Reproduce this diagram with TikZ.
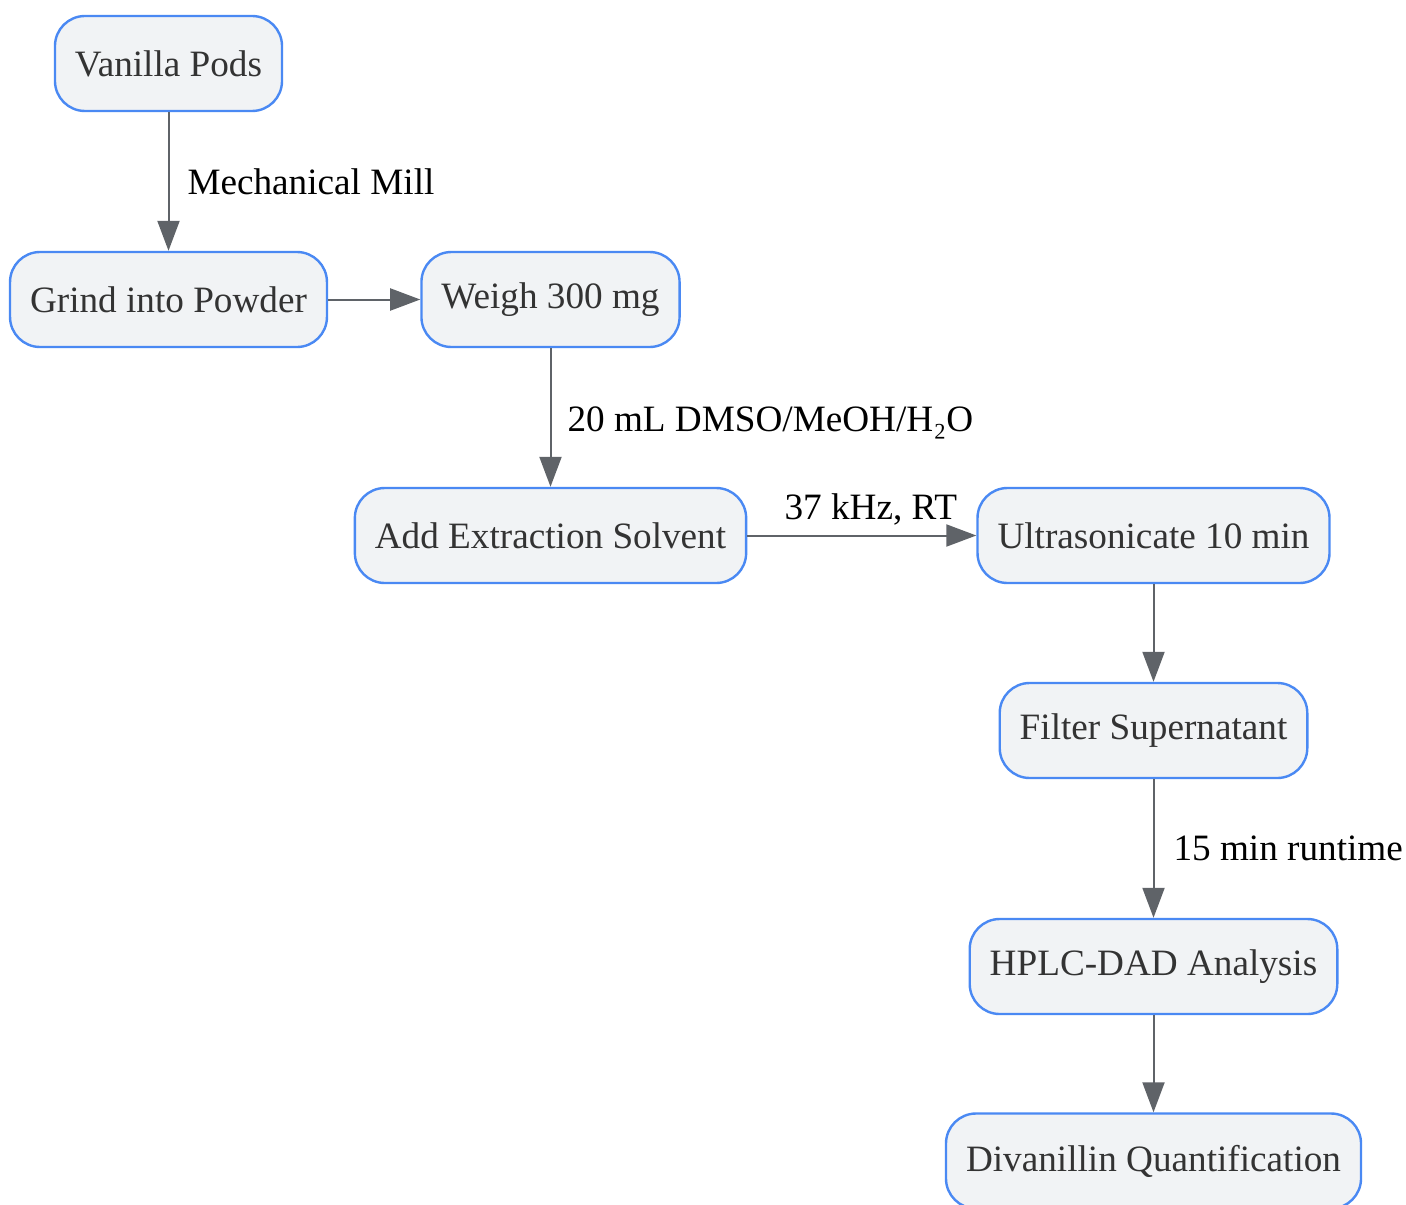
\documentclass[tikz,border=0pt]{standalone}
\usepackage{fontspec}
\setmainfont{Liberation Serif}
\usetikzlibrary{arrows.meta}
\definecolor{boxfill}{HTML}{F1F3F5}
\definecolor{boxline}{HTML}{4A89F3}
\definecolor{boxtext}{HTML}{333333}
\definecolor{arrgray}{HTML}{5F6368}
\begin{document}
\begin{tikzpicture}[x=0.5pt,y=-0.5pt,font=\fontsize{18.6}{22}\selectfont,
	box/.style={draw=boxline,fill=boxfill,text=boxtext,line width=1.2pt,rounded corners=15pt,minimum height=47.5pt,inner xsep=10pt},
	link/.style={draw=arrgray,line width=1pt,-{Triangle[length=15pt,width=11pt]}},
	lab/.style={text=black,inner sep=0pt}]
	\useasboundingbox (0,0) rectangle (1406,1204);
	% steps
	\node[box] (pods) at (168.5,63.5) {Vanilla Pods};
	\node[box] (grind) at (168.5,299.5) {Grind into Powder};
	\node[box] (weigh) at (550.5,299.5) {Weigh 300 mg};
	\node[box] (solv) at (550.5,535.5) {Add Extraction Solvent};
	\node[box] (sonic) at (1153.5,535.5) {Ultrasonicate 10 min};
	\node[box] (filt) at (1153.5,730.5) {Filter Supernatant};
	\node[box] (hplc) at (1153.5,966.5) {HPLC-DAD Analysis};
	\node[box] (quant) at (1153.5,1161) {Divanillin Quantification};
	% arrows
	\draw[link] (pods)--(grind) node[lab,midway,right=9pt]{Mechanical Mill};
	\draw[link] (grind)--(weigh);
	\draw[link] (weigh)--(solv) node[lab,midway,right=8pt,yshift=-2.5pt]{20 mL DMSO/MeOH/H₂O};
	\draw[link] (solv)--(sonic) node[lab,midway,above=4.5pt,xshift=4.5pt]{37 kHz, RT};
	\draw[link] (sonic)--(filt);
	\draw[link] (filt)--(hplc) node[lab,midway,right=9.5pt]{15 min runtime};
	\draw[link] (hplc)--(quant);
\end{tikzpicture}
\end{document}
